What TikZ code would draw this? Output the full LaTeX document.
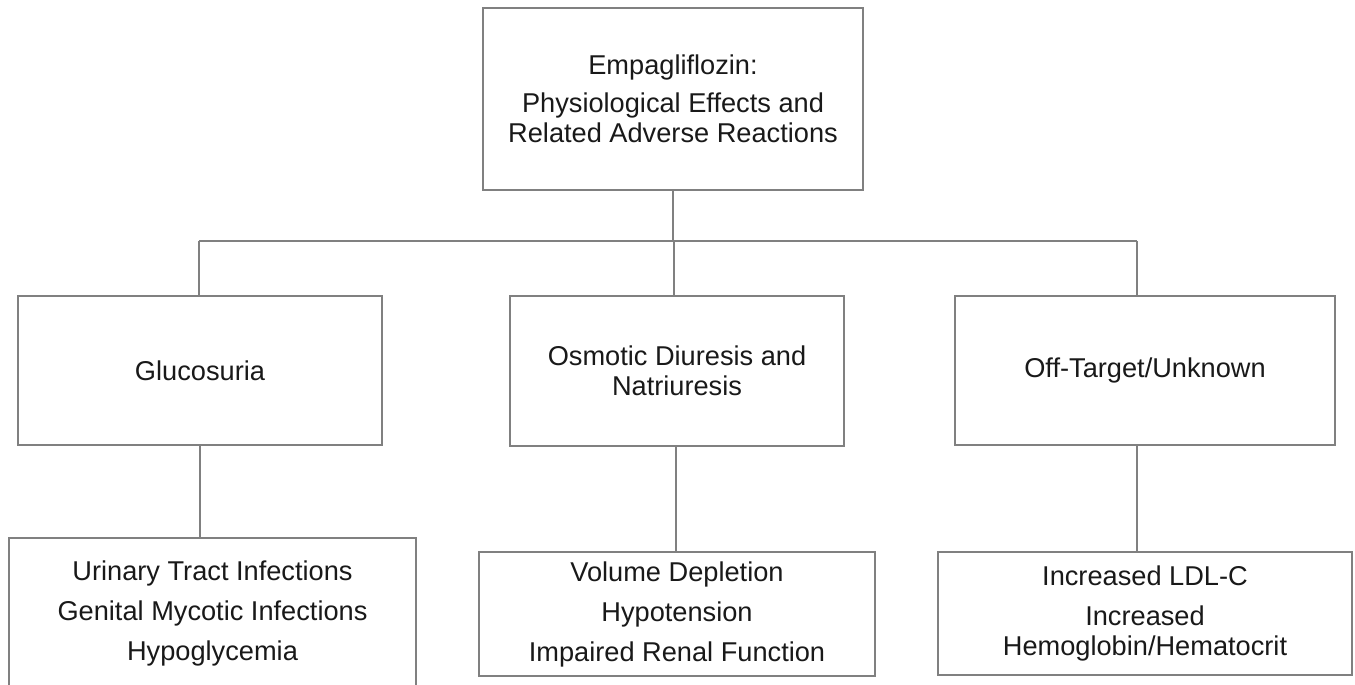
\documentclass[tikz,border=0pt]{standalone}
\usepackage{fontspec}
\setmainfont{Liberation Sans}
\begin{document}
\begin{tikzpicture}[x=1pt,y=-1pt,
  box/.style={draw=linegray, line width=1.8pt, fill=white, inner sep=0pt, align=center,
    font=\fontsize{27.2}{30}\selectfont, text=black!90},
  conn/.style={draw=linegray, line width=1.8pt}]
\definecolor{linegray}{RGB}{128,128,128}
\useasboundingbox (0,0) rectangle (1355,685);
\begin{scope}
\clip (0,0) rectangle (1355,685);
\node[box, minimum width=380pt, minimum height=182pt] (top) at (673,99) {Empagliflozin:\\[8pt]Physiological Effects and\\Related Adverse Reactions};
\node[box, minimum width=364pt, minimum height=149pt] (gluc) at (200,370.5) {Glucosuria};
\node[box, minimum width=334pt, minimum height=150pt] (osm) at (677,371) {Osmotic Diuresis and\\Natriuresis};
\node[box, minimum width=380pt, minimum height=149pt] (off) at (1145,370.5) {Off-Target/Unknown};
\node[box, minimum width=407pt, minimum height=150pt] (gl) at (212.5,613) {Urinary Tract Infections\\[10pt]Genital Mycotic Infections\\[10pt]Hypoglycemia};
\node[box, minimum width=396pt, minimum height=124pt] (ol) at (677,614) {Volume Depletion\\[10pt]Hypotension\\[10pt]Impaired Renal Function};
\node[box, minimum width=414pt, minimum height=123pt] (fl) at (1145,613.5) {Increased LDL-C\\[10pt]Increased\\Hemoglobin/Hematocrit};
\end{scope}
\coordinate (bt) at (673,241);
\coordinate (b1) at (199,241);
\coordinate (b2) at (674,241);
\coordinate (b3) at (1137,241);
\draw[conn] (top.south -| bt) -- (bt);
\draw[conn] (b1) -- (b3);
\draw[conn] (b1) -- (b1 |- gluc.north);
\draw[conn] (b2) -- (b2 |- osm.north);
\draw[conn] (b3) -- (b3 |- off.north);
\draw[conn] (gluc.south) -- (gluc.south |- gl.north);
\draw[conn] (osm.south -| 676,0) -- (ol.north -| 676,0);
\draw[conn] (off.south -| b3) -- (fl.north -| b3);
\end{tikzpicture}
\end{document}
